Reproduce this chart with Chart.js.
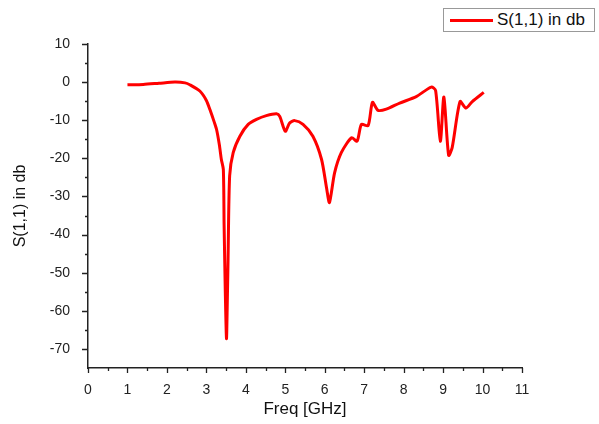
<!DOCTYPE html>
<html>
<head>
<meta charset="utf-8">
<script src="https://cdn.jsdelivr.net/npm/chart.js@4"></script>
<style>
  body { margin: 0; background: #fff; }
  #wrap { position: relative; width: 599px; height: 424px; }
  #legend {
    position: absolute; left: 443px; top: 8px; width: 150px; height: 22px;
    border: 1px solid #999; background: #fff;
    font: 17px "Liberation Sans", Arial, sans-serif; color: #111;
  }
  #legend .swatch { position: absolute; left: 6px; top: 10px; width: 43px; height: 3px; background: #ff0000; }
  #legend .label { position: absolute; left: 53px; top: 1px; white-space: nowrap; }
</style>
</head>
<body>
<div id="wrap">
  <canvas id="chart" width="599" height="424"></canvas>
  <div id="legend"><span class="swatch"></span><span class="label">S(1,1) in db</span></div>
</div>
<script>
// values
const freq = [1.0, 1.4, 1.8, 2.2, 2.46, 2.58, 2.84, 3.0, 3.09, 3.2, 3.26, 3.33, 3.38, 3.43, 3.45, 3.48, 3.51, 3.53, 3.55, 3.59, 3.68, 3.85, 4.06, 4.27, 4.52, 4.78, 4.86, 5.0, 5.11, 5.24, 5.45, 5.7, 5.92, 6.05, 6.12, 6.25, 6.42, 6.68, 6.82, 6.93, 7.1, 7.21, 7.35, 7.56, 7.9, 8.32, 8.7, 8.81, 8.93, 9.02, 9.14, 9.23, 9.43, 9.58, 9.74, 10.03];
const s11 = [-0.7, -0.6, -0.3, 0.0, -0.2, -0.7, -2.4, -4.8, -7.2, -10.5, -12.5, -16.5, -20.3, -22.9, -37.7, -55, -67.3, -58, -46.4, -24.6, -18.5, -14.2, -11.1, -9.8, -8.8, -8.3, -9.0, -12.9, -10.7, -10.1, -11.1, -14.2, -20.3, -28, -31.6, -23.8, -18.5, -14.6, -15.5, -11.1, -11.4, -5.3, -7.4, -7.1, -5.5, -3.8, -1.3, -2.2, -15.5, -3.9, -19.2, -17.2, -5.1, -6.8, -5.1, -2.7];
const xTicks = [0, 1, 2, 3, 4, 5, 6, 7, 8, 9, 10, 11];
const yTicks = [-70, -60, -50, -40, -30, -20, -10, 0, 10];

const FONT = '"Liberation Sans", Arial, sans-serif';
const AXIS = '#222';

// outward major + minor tick marks, like the original plot
const tickMarks = {
  id: 'tickMarks',
  afterDraw(chart) {
    const ctx = chart.ctx;
    const x = chart.scales.x, y = chart.scales.y;
    const area = chart.chartArea;
    ctx.save();
    ctx.strokeStyle = AXIS;
    ctx.lineWidth = 1.3;
    ctx.beginPath();
    for (let v = 0; v <= 11; v += 0.5) {
      const px = Math.round(x.getPixelForValue(v)) + 0.5;
      const len = v % 1 === 0 ? 5 : 3;
      ctx.moveTo(px, area.bottom);
      ctx.lineTo(px, area.bottom + len);
    }
    for (let v = -70; v <= 10; v += 5) {
      const py = Math.round(y.getPixelForValue(v)) + 0.5;
      const len = v % 10 === 0 ? 6 : 3;
      ctx.moveTo(area.left, py);
      ctx.lineTo(area.left - len, py);
    }
    ctx.stroke();
    ctx.restore();
  }
};

new Chart(document.getElementById('chart'), {
  type: 'scatter',
  data: {
    datasets: [{
      label: 'S(1,1) in db',
      data: freq.map((f, i) => ({ x: f, y: s11[i] })),
      showLine: true,
      borderColor: '#ff0000',
      borderWidth: 3,
      pointRadius: 0,
      tension: 0.25
    }]
  },
  options: {
    responsive: false,
    animation: false,
    layout: { padding: { left: 0, top: 44, right: 77, bottom: 0 } },
    plugins: { legend: { display: false }, tooltip: { enabled: false } },
    scales: {
      x: {
        type: 'linear',
        min: 0, max: 11,
        afterBuildTicks: s => { s.ticks = xTicks.map(v => ({ value: v })); },
        afterFit: s => { s.height = 56; },
        grid: { display: false },
        border: { display: true, color: AXIS, width: 1.5 },
        ticks: { color: '#222', padding: 6, maxRotation: 0, font: { family: FONT, size: 14 } },
        title: { display: true, text: 'Freq [GHz]', color: '#111', padding: { top: 4 }, font: { family: FONT, size: 17 } }
      },
      y: {
        type: 'linear',
        min: -75, max: 10,
        afterBuildTicks: s => { s.ticks = yTicks.map(v => ({ value: v })); },
        afterFit: s => { s.width = 88; },
        grid: { display: false },
        border: { display: true, color: AXIS, width: 1.5 },
        ticks: { color: '#222', padding: 10, font: { family: FONT, size: 14 } },
        title: { display: true, text: 'S(1,1) in db', color: '#111', padding: { top: 11, bottom: 4 }, font: { family: FONT, size: 16 } }
      }
    }
  },
  plugins: [tickMarks]
});
</script>
</body>
</html>
